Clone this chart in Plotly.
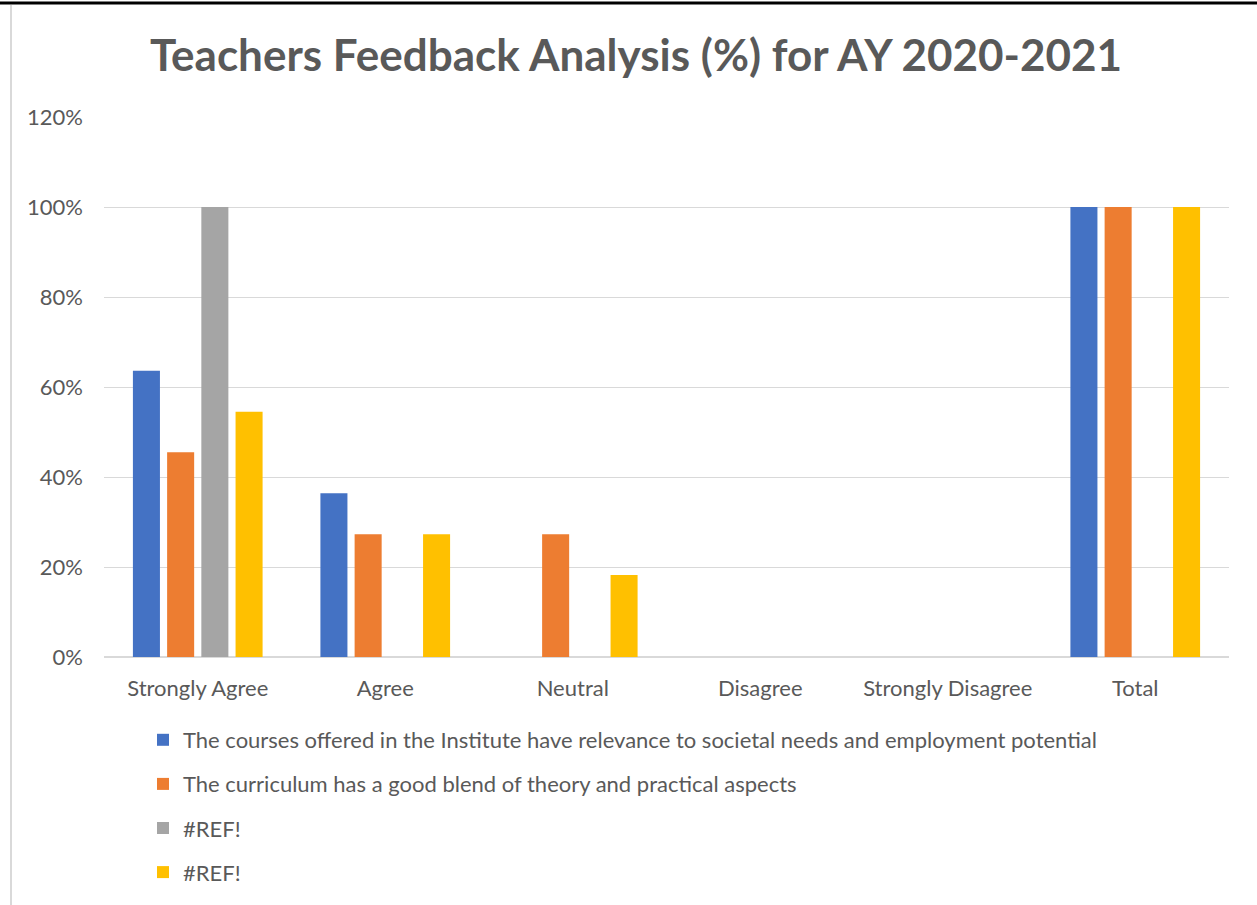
import plotly.graph_objects as go

categories = ["Strongly Agree", "Agree", "Neutral", "Disagree", "Strongly Disagree", "Total"]
series_names = [
    "The courses offered in the Institute have relevance to societal needs and employment potential",
    "The curriculum has a good blend of theory and practical aspects",
    "#REF!",
    "#REF!",
]
s1 = [0.636, 0.364, 0.0, 0.0, 0.0, 1.0]
s2 = [0.455, 0.273, 0.273, 0.0, 0.0, 1.0]
s3 = [1.0, 0.0, 0.0, 0.0, 0.0, 0.0]
s4 = [0.545, 0.273, 0.182, 0.0, 0.0, 1.0]
colors = ["#4472C4", "#ED7D31", "#A5A5A5", "#FFC000"]
yticks = [0, 0.2, 0.4, 0.6, 0.8, 1.0, 1.2]

W, H = 1257, 905
ml, mr, mt, mb = 104, 28, 117, 248
pw, ph = W - ml - mr, H - mt - mb

fig = go.Figure()
for i, (name, vals) in enumerate(zip(series_names, [s1, s2, s3, s4])):
    fig.add_trace(go.Bar(x=categories, y=vals, name=name, marker_color=colors[i],
                         marker_line_width=0, legendgroup=f"g{i}"))

def px_x(x):
    return (x - ml) / pw

def px_y(y):
    return (H - mb - y) / ph

FONT = "Lato"
fig.update_layout(
    width=W, height=H,
    margin=dict(l=ml, r=mr, t=mt, b=mb),
    paper_bgcolor="white", plot_bgcolor="white",
    barmode="group", bargap=0.27, bargroupgap=0.21,
    title=dict(text="<b>Teachers Feedback Analysis (%) for AY 2020-2021</b>",
               font=dict(family=FONT, size=44, color="#595959"),
               x=0.506, xanchor="center", y=1 - 56 / H, yanchor="middle"),
    font=dict(family=FONT, color="#595959"),
    xaxis=dict(showgrid=False, showline=True, linecolor="#D9D9D9", linewidth=1,
               tickfont=dict(size=22, color="#595959"), ticklabelstandoff=12),
    yaxis=dict(range=[0, 1.2], tickvals=yticks, tickformat=".0%",
               showgrid=True, gridcolor="#D9D9D9", gridwidth=1,
               zeroline=True, zerolinecolor="#D9D9D9",
               tickfont=dict(size=22, color="#595959"), ticklabelstandoff=20),
    legend=dict(orientation="v", x=px_x(143), xanchor="left", y=px_y(719), yanchor="top",
                font=dict(size=22, color="#595959"), traceorder="grouped", tracegroupgap=12.5,
                itemwidth=30),
    showlegend=True,
    shapes=[
        dict(type="line", xref="paper", yref="paper", x0=px_x(0), x1=px_x(W), y0=px_y(3), y1=px_y(3),
             line=dict(color="black", width=3)),
        dict(type="line", xref="paper", yref="paper", x0=px_x(11), x1=px_x(11), y0=px_y(5), y1=px_y(H),
             line=dict(color="#D9D9D9", width=2)),
    ],
)

post = (
    "document.documentElement.style.margin='0';"
    "document.documentElement.style.overflow='hidden';"
    "document.body.style.margin='0';"
    "document.body.style.overflow='hidden';"
    "var gd=document.getElementsByClassName('plotly-graph-div')[0];"
    "gd.parentElement.style.height='905px';gd.parentElement.style.overflow='hidden';"
)
fig.write_html("out.html", config={"displayModeBar": False}, post_script=post)
